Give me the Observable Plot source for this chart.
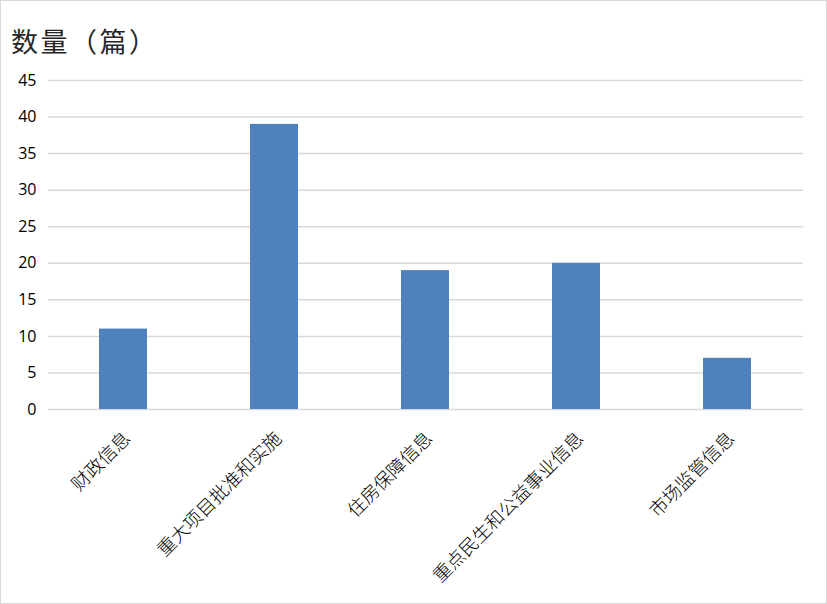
<!DOCTYPE html>
<html>
<head>
<meta charset="utf-8">
<script src="https://cdn.jsdelivr.net/npm/d3@7"></script>
<script src="https://cdn.jsdelivr.net/npm/@observablehq/plot@0.6"></script>
<style>
  html, body { margin: 0; padding: 0; background: #fff; }
  #frame { position: relative; width: 825px; height: 602px; border: 1px solid #d9d9d9; overflow: hidden; }
  #title { position: absolute; left: 10px; top: 26px; font-family: "Noto Sans CJK SC", sans-serif; font-size: 27px; letter-spacing: 2.5px; color: #262626; line-height: 1; }
  #chart { position: absolute; left: 0; top: 60px; }
</style>
</head>
<body>
<div id="frame">
  <div id="title">数量（篇）</div>
  <div id="chart"></div>
</div>
<script>
const categories = ["财政信息", "重大项目批准和实施", "住房保障信息", "重点民生和公益事业信息", "市场监管信息"];
const values = [11, 39, 19, 20, 7];
const yTicks = [0, 5, 10, 15, 20, 25, 30, 35, 40, 45];

const data = categories.map((c, i) => ({category: c, value: values[i]}));

const chart = Plot.plot({
  width: 825,
  height: 542,
  marginTop: 19,
  marginBottom: 194,
  marginLeft: 47,
  marginRight: 23,
  style: {background: "transparent", overflow: "visible"},
  x: {domain: categories, paddingInner: 0.68, paddingOuter: 0.34, label: null},
  y: {domain: [0, 45], label: null},
  marks: [
    Plot.gridY(yTicks, {stroke: "#d9d9d9", strokeOpacity: 1, strokeWidth: 1.5}),
    Plot.barY(data, {x: "category", y: "value", fill: "#4f81bd"}),
    Plot.axisY(yTicks, {tickSize: 0, tickPadding: 12, fontSize: 16, fontFamily: "'Open Sans', 'Noto Sans', sans-serif", fill: "#000", label: null}),
    Plot.axisX({tickSize: 0, tickPadding: 26, dx: 4, tickRotate: -45, fontSize: 18.5, fontFamily: "'Noto Sans CJK SC', sans-serif", fontWeight: 300, fill: "#000", label: null})
  ]
});
document.getElementById("chart").appendChild(chart);
</script>
</body>
</html>
